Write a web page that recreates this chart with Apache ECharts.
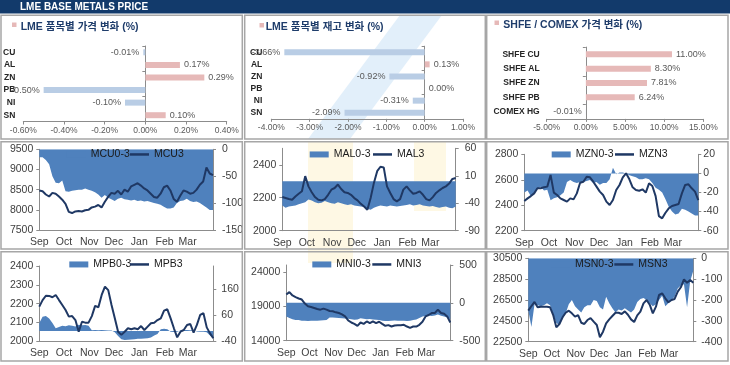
<!DOCTYPE html>
<html><head><meta charset="utf-8">
<script src="https://cdn.jsdelivr.net/npm/echarts@6/dist/echarts.min.js"></script>
<style>html,body{margin:0;padding:0;background:#fff}#c{width:730px;height:365px}</style>
</head><body><div id="c"></div>
<script>
// ---------- DATA ----------
const metals = ['CU','AL','ZN','PB','NI','SN'];
const priceChg = [-0.01, 0.17, 0.29, -0.50, -0.10, 0.10];
const stockChg = [-3.66, 0.13, -0.92, 0.00, -0.31, -2.09];
const shfeCats = ['SHFE CU','SHFE AL','SHFE ZN','SHFE PB','COMEX HG'];
const shfeChg = [11.00, 8.30, 7.81, 6.24, -0.01];
const monthLabels = ['Sep','Oct','Nov','Dec','Jan','Feb','Mar'];
const monthStartDays = [0,30,61,91,122,153,181];
const days = [0,4,8,12,16,20,24,28,32,36,40,44,48,52,56,60,64,68,72,76,80,84,88,92,96,100,104,108,112,116,120,124,128,132,136,140,144,148,152,156,160,164,168,172,176,180,184,188,192,196,200,204,208,212];

const mcu3 = [8480,8460,8380,8330,8420,8400,8330,8250,8150,7950,7920,7960,7970,7960,7990,8000,8060,8080,8120,8060,8200,8320,8420,8400,8470,8380,8500,8450,8580,8620,8660,8600,8530,8480,8400,8320,8300,8400,8560,8600,8480,8270,8200,8350,8480,8450,8400,8420,8500,8620,8700,9050,8900,8860];
const mcu03 = [-15,-15,-20,-28,-50,-62,-63,-58,-78,-79,-77,-76,-75,-75,-73,-75,-77,-80,-84,-90,-85,-90,-93,-96,-92,-90,-93,-94,-95,-94,-96,-95,-97,-96,-98,-100,-101,-103,-107,-110,-110,-108,-100,-96,-95,-92,-96,-98,-97,-100,-104,-108,-113,-113];
const mal3 = [2204,2198,2192,2188,2208,2224,2239,2331,2269,2233,2204,2188,2184,2192,2218,2249,2259,2280,2253,2233,2229,2218,2198,2184,2163,2147,2127,2198,2290,2361,2388,2384,2269,2229,2192,2178,2192,2249,2269,2245,2224,2229,2239,2218,2192,2184,2204,2229,2245,2259,2269,2286,2314,2320];
const mal03 = [-44,-48,-46,-45,-44,-42,-40,-38,-33,-35,-38,-40,-39,-36,-38,-40,-41,-38,-40,-42,-43,-42,-44,-45,-46,-47,-50,-52,-48,-46,-44,-45,-46,-44,-45,-46,-45,-44,-43,-42,-44,-43,-42,-44,-45,-46,-45,-47,-48,-47,-46,-48,-49,-46];
const mzn3 = [2433,2454,2472,2493,2533,2533,2541,2546,2638,2499,2480,2454,2441,2428,2454,2446,2493,2577,2585,2624,2619,2585,2546,2507,2480,2428,2402,2441,2520,2559,2619,2651,2604,2541,2520,2514,2525,2499,2572,2551,2472,2315,2297,2341,2376,2394,2402,2410,2493,2559,2564,2533,2507,2441];
const mzn03 = [-20,-18,-24,-20,-16,-14,-18,-17,-28,-26,-25,-23,-20,-9,-7,-9,-10,-9,-9,-8,-7,-10,-9,-12,-10,-10,-6,6,-1,1,1,0,-2,-3,-4,-6,-6,-5,-6,-10,-15,-17,-20,-27,-35,-40,-43,-42,-37,-38,-40,-42,-44,-44];
const mpb3 = [2184,2219,2242,2241,2234,2246,2219,2193,2166,2131,2134,2113,2051,2104,2099,2099,2134,2188,2181,2246,2290,2272,2193,2122,2051,2034,2051,2069,2064,2069,2064,2081,2060,2078,2096,2099,2113,2122,2163,2170,2122,2069,2021,2051,2060,2087,2092,2046,2087,2140,2149,2074,2042,2016];
const mpb03 = [30,55,57,48,30,10,15,20,18,22,20,17,24,22,23,20,3,4,3,4,3,2,2,-5,-20,-32,-35,-34,-33,-32,-30,-30,-29,-28,-25,-18,-12,6,8,6,-3,-4,-3,2,4,4,3,3,-2,-3,-3,-5,-18,-28];
const mni3 = [20720,21060,20570,20330,20130,19980,19390,19000,18900,18760,18610,18510,18660,18510,18320,18270,18120,18020,17830,17530,16940,16650,16450,16160,16650,16450,16800,16550,16800,16550,16750,16450,16160,16260,16060,16210,16260,16260,16310,16060,15870,16060,16060,16310,16750,17530,17730,18020,18020,18510,18020,17920,17530,16650];
const mni03 = [-180,-200,-215,-225,-228,-235,-238,-240,-235,-238,-236,-232,-230,-225,-195,-195,-198,-200,-205,-208,-210,-218,-222,-220,-205,-210,-215,-212,-220,-222,-225,-235,-240,-240,-238,-232,-235,-238,-235,-240,-238,-228,-220,-200,-180,-175,-168,-175,-168,-155,-170,-180,-195,-215];
const msn3 = [25480,25920,26310,25800,25860,25860,25860,25800,25060,23880,24200,24840,25280,25480,25220,24900,25060,24320,24200,24580,24770,24420,24100,22920,23460,24260,24640,24960,25280,25280,25160,25410,25090,24640,24390,25030,25380,26180,26500,26050,25220,25860,26980,27140,26660,26280,26500,26600,27300,27720,28480,28160,28420,28160];
const msn03 = [-250,-330,-220,-225,-230,-225,-215,-225,-270,-310,-320,-290,-265,-220,-200,-230,-245,-260,-235,-225,-225,-200,-205,-235,-245,-185,-215,-240,-260,-245,-250,-240,-250,-260,-245,-210,-195,-190,-200,-215,-230,-220,-200,-180,-230,-215,-200,-185,-145,-130,-125,-235,-110,-60];

// ---------- STYLE / LAYOUT ----------
const FONT = "'Liberation Sans','Noto Sans CJK KR',sans-serif";
const PINK = '#e6b9b8', BLUE = '#b9cde5', AREA = '#4f81bd', LINE = '#1f3864';
const AXC = '#8c8c8c', TXT = '#404040';

const barPanels = [
  {cats: metals, vals: priceChg, min:-0.6, max:0.4, interval:0.2, grid:{left:23.3, top:46, width:203.4, height:75.5}, catMargin:8},
  {cats: metals, vals: stockChg, min:-4, max:1, interval:1, grid:{left:271.3, top:46.2, width:191.7, height:72.6}, catMargin:9},
  {cats: shfeCats, vals: shfeChg, min:-5, max:15, interval:5, grid:{left:546.7, top:47.1, width:156.6, height:71.8}, catMargin:7}
];
const linePanels = [
  {names:['MCU0-3','MCU3'], area:mcu03, line:mcu3, grid:{left:39.3, top:149.3, width:173.7, height:80.7}, l:[7500,9500,500], r:[-150,0,50], rm:9, lg:[66.7,130,155.7]},
  {names:['MAL0-3','MAL3'], area:mal03, line:mal3, grid:{left:282.3, top:148.3, width:173.4, height:82.4}, l:[2000,2500,200], r:[-90,60,50], rm:9, lg:[309.7,373,155.7]},
  {names:['MZN0-3','MZN3'], area:mzn03, line:mzn3, grid:{left:524.3, top:154.3, width:174, height:76.4}, l:[2200,2800,200], r:[-60,20,20], rm:5, lg:[551.7,615,155.7]},
  {names:['MPB0-3','MPB3'], area:mpb03, line:mpb3, grid:{left:39.3, top:266, width:174, height:75.3}, l:[2000,2400,100], r:[-40,250,100], rm:8, lg:[69.3,130,265.7]},
  {names:['MNI0-3','MNI3'], area:mni03, line:mni3, grid:{left:286.3, top:265, width:164, height:75.7}, l:[14000,25000,5000], r:[-500,500,500], rm:9, lg:[312.3,372.3,265.7]},
  {names:['MSN0-3','MSN3'], area:msn03, line:msn3, grid:{left:528.3, top:258.3, width:165, height:83.4}, l:[22500,30500,2000], r:[-400,0,100], rm:8, lg:[551,614.3,265.7]}
];

function fmtPct(v){ if (Math.abs(v) < 1e-9) v = 0; return v.toFixed(2) + '%'; }

const option = {
  animation:false,
  backgroundColor:'#ffffff',
  textStyle:{fontFamily:FONT},
  grid:[], xAxis:[], yAxis:[], series:[], legend:[],
  graphic:{elements:[]}
};

barPanels.forEach(p => {
  const gi = option.grid.length;
  option.grid.push(Object.assign({containLabel:false}, p.grid));
  option.xAxis.push({gridIndex:gi, type:'value', min:p.min, max:p.max, interval:p.interval,
    axisLine:{show:true, onZero:false, lineStyle:{color:AXC}}, axisTick:{show:true, length:3, lineStyle:{color:AXC}},
    splitLine:{show:false}, axisLabel:{formatter:fmtPct, fontSize:8.5, color:'#595959', margin:5, fontFamily:FONT}});
  const xi = option.xAxis.length - 1;
  option.yAxis.push({gridIndex:gi, type:'category', data:p.cats, inverse:true,
    axisLine:{show:false, onZero:false}, axisTick:{show:false}, splitLine:{show:false},
    axisLabel:{fontSize:8.5, fontWeight:'bold', color:'#262626', margin:p.catMargin, fontFamily:FONT}});
  const yi = option.yAxis.length - 1;
  option.yAxis.push({gridIndex:gi, type:'category', data:p.cats, inverse:true, position:'left',
    axisLine:{show:true, onZero:true, lineStyle:{color:AXC}}, axisTick:{show:true, length:3, lineStyle:{color:AXC}},
    axisLabel:{show:false}, splitLine:{show:false}});
  option.series.push({type:'bar', xAxisIndex:xi, yAxisIndex:yi, barWidth:6, silent:true,
    data:p.vals.map(v => ({value:v, itemStyle:{color: v < 0 ? BLUE : PINK}, label:{position: v < 0 ? 'left' : 'right'}})),
    label:{show:true, formatter:o => fmtPct(o.value), fontSize:9, color:'#595959', distance:4, fontFamily:FONT}});
});

linePanels.forEach(p => {
  const gi = option.grid.length;
  option.grid.push(Object.assign({containLabel:false}, p.grid));
  option.xAxis.push({gridIndex:gi, type:'value', min:0, max:212,
    axisLine:{show:true, onZero:false, lineStyle:{color:AXC}}, axisTick:{show:false}, splitLine:{show:false},
    axisLabel:{customValues:monthStartDays, formatter:v => { const k = monthStartDays.indexOf(v); return k >= 0 ? monthLabels[k] : ''; },
      fontSize:10.5, color:TXT, margin:7, fontFamily:FONT}});
  const xi = option.xAxis.length - 1;
  const lOn = (p.l[1]-p.l[0]) % p.l[2] === 0, rOn = (p.r[1]-p.r[0]) % p.r[2] === 0;
  option.yAxis.push({gridIndex:gi, type:'value', position:'left', min:p.l[0], max:p.l[1], interval:p.l[2],
    axisLine:{show:true, onZero:false, lineStyle:{color:AXC}}, axisTick:{show:true, length:3, lineStyle:{color:AXC}}, splitLine:{show:false},
    axisLabel:{formatter:v => String(v), fontSize:10.5, color:TXT, margin:6, showMaxLabel:lOn, fontFamily:FONT}});
  const yL = option.yAxis.length - 1;
  option.yAxis.push({gridIndex:gi, type:'value', position:'right', min:p.r[0], max:p.r[1], interval:p.r[2],
    axisLine:{show:true, onZero:false, lineStyle:{color:AXC}}, axisTick:{show:true, length:3, lineStyle:{color:AXC}}, splitLine:{show:false},
    axisLabel:{formatter:v => String(v), fontSize:10.5, color:TXT, margin:p.rm, showMaxLabel:rOn, fontFamily:FONT}});
  const yR = option.yAxis.length - 1;
  option.series.push({name:p.names[0], type:'line', xAxisIndex:xi, yAxisIndex:yR, silent:true,
    data:days.map((d,i) => [d, p.area[i]]), symbol:'none', showSymbol:false,
    lineStyle:{width:0}, itemStyle:{color:AREA}, areaStyle:{color:AREA, opacity:1, origin:0}, z:2});
  option.series.push({name:p.names[1], type:'line', xAxisIndex:xi, yAxisIndex:yL, silent:true,
    data:days.map((d,i) => [d, p.line[i]]), symbol:'none', showSymbol:false,
    lineStyle:{width:2, color:LINE}, itemStyle:{color:LINE}, z:3});
  const lgText = {fontSize:10.5, color:'#1a1a1a', fontFamily:FONT};
  option.legend.push({data:[{name:p.names[0], icon:'rect'}], left:p.lg[0], top:p.lg[2]-6.5, itemWidth:19, itemHeight:6, padding:0, selectedMode:false, textStyle:lgText});
  option.legend.push({data:[{name:p.names[1], icon:'rect'}], left:p.lg[1], top:p.lg[2]-6.5, itemWidth:19, itemHeight:2.5, padding:0, selectedMode:false, textStyle:lgText});
});

// ---------- DECORATION ----------
const G = option.graphic.elements;
// faint watermark
G.push({type:'polygon', z:-10, shape:{points:[[400,15],[442,15],[350,139],[308,139]]}, style:{fill:'#e2effa'}, silent:true});
G.push({type:'rect', z:-10, shape:{x:308, y:141, width:45, height:122}, style:{fill:'#fef8e4'}, silent:true});
G.push({type:'rect', z:-10, shape:{x:414, y:141, width:32, height:70}, style:{fill:'#fef8e4'}, silent:true});
// header
G.push({type:'rect', z:20, shape:{x:0, y:0, width:730, height:13.5}, style:{fill:'#123a6b'}, silent:true});
G.push({type:'text', z:21, x:20, y:7, style:{text:'LME BASE METALS PRICE', fill:'#ffffff', fontSize:10, fontWeight:'bold', fontFamily:FONT, verticalAlign:'middle'}, silent:true});
// panel borders
const cols = [[1,242.3],[244.7,485.3],[486.7,728]];
const rows = [[15.3,139],[141.7,249],[251.7,361]];
rows.forEach(r => cols.forEach(c => G.push({type:'rect', z:20, shape:{x:c[0], y:r[0], width:c[1]-c[0], height:r[1]-r[0]}, style:{fill:'none', stroke:'#a6a6a6', lineWidth:1.5}, silent:true})));
// bar panel titles
const titles = [
  {t:'LME 품목별 가격 변화 (%)', mx:12, my:22.5, tx:20.7, ty:27.3},
  {t:'LME 품목별 재고 변화 (%)', mx:259.5, my:23, tx:265.7, ty:27.3},
  {t:'SHFE / COMEX 가격 변화 (%)', mx:494.5, my:20.5, tx:503.3, ty:25}
];
titles.forEach(o => {
  G.push({type:'rect', z:21, shape:{x:o.mx, y:o.my, width:4.5, height:4.5}, style:{fill:PINK}, silent:true});
  G.push({type:'text', z:21, x:o.tx, y:o.ty, style:{text:o.t, fill:'#1f3d6b', fontSize:10.5, fontWeight:'bold', fontFamily:FONT, verticalAlign:'middle'}, silent:true});
});

const chart = echarts.init(document.getElementById('c'), null, {renderer:'canvas', width:730, height:365});
chart.setOption(option);
</script>
</body></html>
